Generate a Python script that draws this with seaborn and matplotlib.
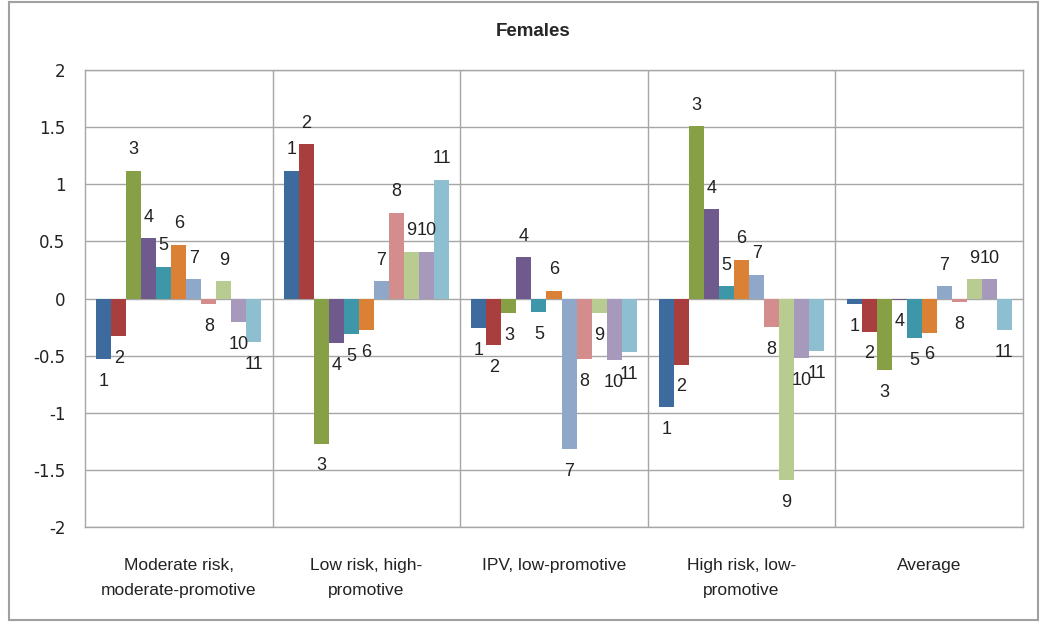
import pandas as pd
import numpy as np
import seaborn as sns
import matplotlib
matplotlib.use('Agg')
import matplotlib.pyplot as plt
from matplotlib.patches import Rectangle

sns.set_theme(style='white')
plt.rcParams['font.family'] = ['Liberation Sans', 'DejaVu Sans']

# Categorias (eje x) y series (11 perfiles)
categorias = ['Moderate risk,\nmoderate-promotive', 'Low risk, high-\npromotive',
              'IPV, low-promotive', 'High risk, low-\npromotive', 'Average']
series = [str(i) for i in range(1, 12)]

# Valores, por categoria (series 1..11)
moderate_risk = [-0.53, -0.33, 1.12, 0.53, 0.28, 0.47, 0.17, -0.05, 0.15, -0.21, -0.38]
low_risk = [1.12, 1.35, -1.27, -0.39, -0.31, -0.28, 0.15, 0.75, 0.41, 0.41, 1.04]
ipv_low = [-0.26, -0.41, -0.13, 0.36, -0.12, 0.07, -1.32, -0.53, -0.13, -0.54, -0.47]
high_risk = [-0.95, -0.58, 1.51, 0.78, 0.11, 0.34, 0.21, -0.25, -1.59, -0.52, -0.46]
promedio = [-0.05, -0.29, -0.63, -0.01, -0.35, -0.30, 0.11, -0.03, 0.17, 0.17, -0.28]

colores = ['#3d6b9e', '#a83e3e', '#87a046', '#6e5a8c', '#3d97a9', '#da8136',
           '#8fa7c9', '#d48d8d', '#b8cb91', '#a699bb', '#8dbfd1']

filas = []
for cat, vals in zip(categorias, [moderate_risk, low_risk, ipv_low, high_risk, promedio]):
    for s, v in zip(series, vals):
        filas.append({'Categoria': cat, 'Serie': s, 'Valor': v})
df = pd.DataFrame(filas)

fig = plt.figure(figsize=(10.5, 6.31), dpi=100)
ax = fig.add_axes([85 / 1050, 1 - 527 / 631, (1023 - 85) / 1050, (527 - 70) / 631])

sns.barplot(data=df, x='Categoria', y='Valor', hue='Serie', hue_order=series,
            palette=colores, width=0.88, gap=0, linewidth=0, saturation=1,
            errorbar=None, legend=False, ax=ax)

# Etiquetas con el numero de serie en el extremo de cada barra
for serie, cont in zip(series, ax.containers):
    for bar in cont:
        h = bar.get_height()
        off = 15 if h >= 0 else -16
        ax.annotate(serie, (bar.get_x() + bar.get_width() / 2, h),
                    xytext=(0, off), textcoords='offset points',
                    ha='center', va='center', fontsize=13, color='#222222')

ax.set_ylim(-2, 2)
ax.set_xlim(-0.5, 4.5)
ax.set_yticks(np.arange(-2, 2.01, 0.5))
ax.set_yticklabels(['-2', '-1.5', '-1', '-0.5', '0', '0.5', '1', '1.5', '2'])
for lbl in ax.get_yticklabels():
    lbl.set_fontfamily('DejaVu Sans')
    lbl.set_fontsize(12)
    lbl.set_color('#222222')
ax.yaxis.grid(True, color='#a6a6a6', linewidth=1)
for xv in [0.5, 1.5, 2.5, 3.5]:
    ax.axvline(xv, color='#a6a6a6', linewidth=1)
ax.set_axisbelow(True)
for sp in ax.spines.values():
    sp.set_color('#a6a6a6')
    sp.set_linewidth(1)
ax.tick_params(axis='x', length=0, pad=22, labelsize=12.5)
ax.tick_params(axis='y', length=0, pad=14)
for lbl in ax.get_xticklabels():
    lbl.set_linespacing(1.9)
    lbl.set_va('top')
    lbl.set_color('#222222')
ax.set_xlabel('')
ax.set_ylabel('')

fig.text(533 / 1050, 1 - 32 / 631, 'Females', ha='center', va='center',
         fontsize=13.5, fontweight='bold')

# Borde del area del grafico
fig.patches.append(Rectangle((9 / 1050, 1 - 620 / 631), (1038 - 9) / 1050, (619 - 1) / 631,
                             transform=fig.transFigure, fill=False,
                             edgecolor='#a0a0a0', linewidth=1.5))

plt.savefig('out.png', dpi=100)
